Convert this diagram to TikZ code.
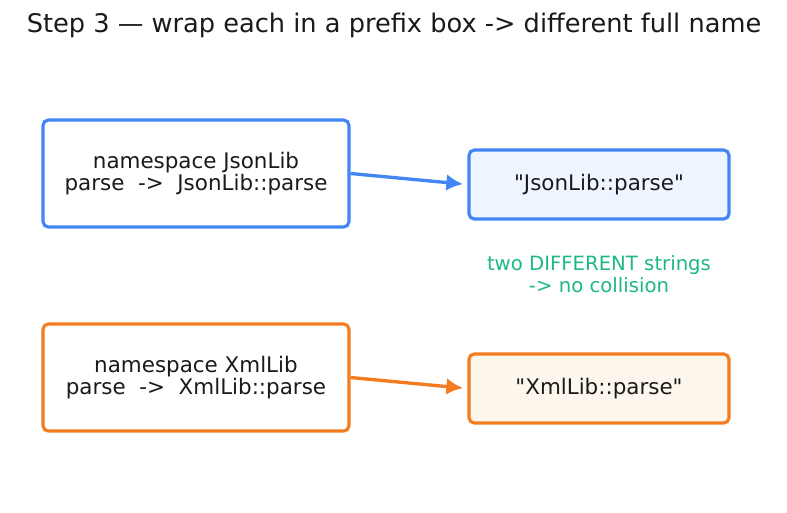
\documentclass[tikz,border=0pt]{standalone}
\usepackage{fontspec}
\setmainfont{DejaVu Sans}
\usepackage{tikz}
\usetikzlibrary{arrows.meta, positioning}
\definecolor{jsonblue}{HTML}{4285F4}
\definecolor{jsonfill}{HTML}{EEF5FF}
\definecolor{xmlorange}{HTML}{F47B20}
\definecolor{xmlfill}{HTML}{FDF6EC}
\definecolor{notegreen}{HTML}{1DB980}
\definecolor{ink}{HTML}{1A1A1A}

\begin{document}
\begin{tikzpicture}[x=0.02cm, y=-0.02cm, font=\fontsize{12.2}{13}\selectfont, text=ink]
    \useasboundingbox (0,0) rectangle (787,512);
    \tikzset{
        ns/.style={draw, rounded corners=3pt, line width=1.8pt, fill=white, minimum width=6.12cm, minimum height=2.14cm, align=center},
        full/.style={draw, rounded corners=3pt, line width=1.8pt, minimum width=5.2cm, minimum height=1.38cm},
        link/.style={-{Latex[length=9.5pt, width=9.5pt]}, line width=1.9pt, shorten >=2.5pt}
    }
    \node[font=\fontsize{14.6}{16}\selectfont] (title) at (394,25) {Step 3 — wrap each in a prefix box -> different full name};
    \node[ns, draw=jsonblue] (json) at (196,173.5) {namespace JsonLib\\parse\ \ ->\ \ JsonLib::parse};
    \node[full, draw=jsonblue, fill=jsonfill] (jsonfull) at (599,184.5) {\textquotedbl JsonLib::parse\textquotedbl};
    \node[ns, draw=xmlorange] (xml) at (196,377.5) {namespace XmlLib\\parse\ \ ->\ \ XmlLib::parse};
    \node[full, draw=xmlorange, fill=xmlfill] (xmlfull) at (599,388.5) {\textquotedbl XmlLib::parse\textquotedbl};
    \node[text=notegreen, align=center, font=\fontsize{11.2}{12.5}\selectfont] (note) at (599,274) {two DIFFERENT strings\\-> no collision};
    \draw[link, jsonblue] (json.east) -- (jsonfull.west);
    \draw[link, xmlorange] (xml.east) -- (xmlfull.west);
\end{tikzpicture}
\end{document}
